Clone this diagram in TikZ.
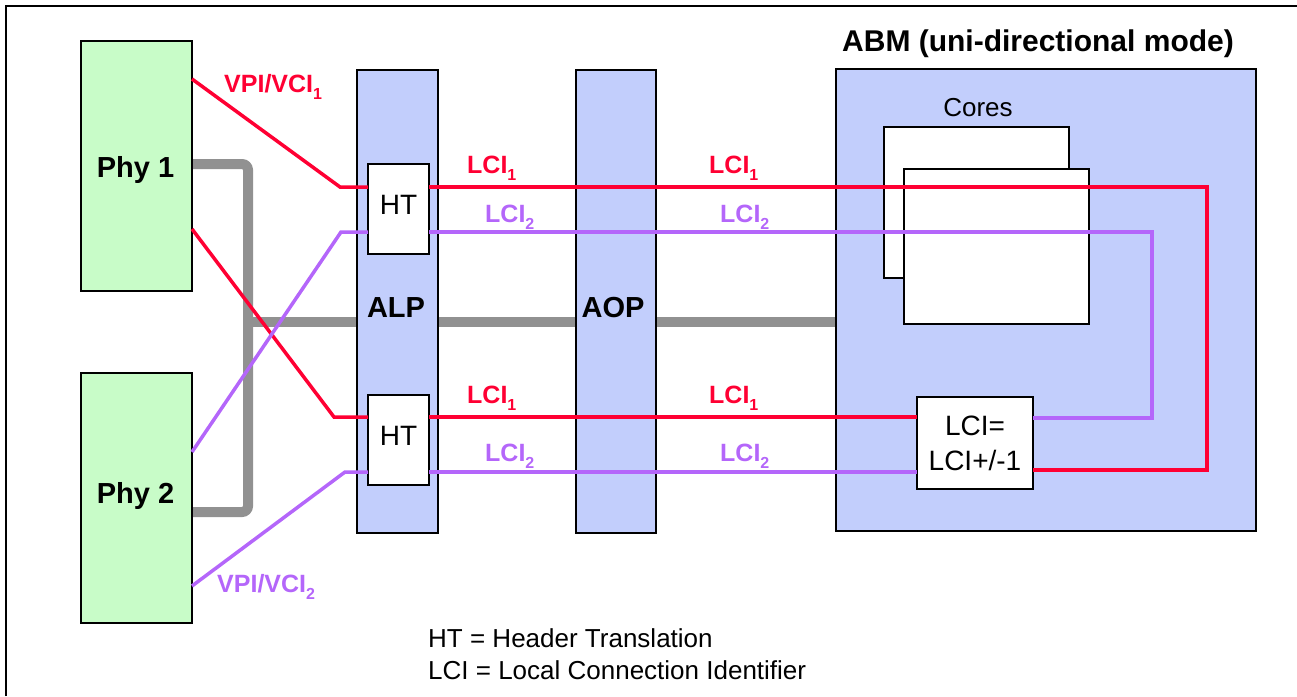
\documentclass[tikz,border=0pt]{standalone}
\usepackage{fontspec}
\setmainfont{Liberation Sans}
\usetikzlibrary{backgrounds}
\definecolor{phyfill}{RGB}{200,252,200}
\definecolor{blkfill}{RGB}{194,206,252}
\definecolor{redc}{RGB}{255,0,51}
\definecolor{purc}{RGB}{180,102,250}
\definecolor{busc}{RGB}{145,145,145}
\newcommand{\sbs}[1]{\raisebox{-0.28em}{\fontsize{16}{16}\selectfont #1}}
\tikzset{
  box/.style={draw=black, line width=2pt, inner sep=0pt, outer sep=0pt},
  phy/.style={box, fill=phyfill, minimum width=111pt, minimum height=250pt},
  blk/.style={box, fill=blkfill},
  wbox/.style={box, fill=white},
  htbox/.style={box, fill=white, minimum width=61pt, minimum height=90pt, text depth=8pt, font=\fontsize{28}{33}\selectfont},
  redl/.style={draw=redc, line width=3.5pt},
  purl/.style={draw=purc, line width=3.5pt},
  bus/.style={draw=busc, line width=10pt, rounded corners=6pt},
  bigb/.style={inner sep=0pt, anchor=base, font=\fontsize{29}{34}\selectfont\bfseries},
  lbl/.style={inner sep=0pt, anchor=base west, font=\fontsize{25}{30}\selectfont\bfseries},
  plain/.style={inner sep=0pt, font=\fontsize{26}{32}\selectfont},
}
\begin{document}
\begin{tikzpicture}[x=1pt, y=-1pt]
\useasboundingbox (0,0) rectangle (1297,696);
% outer frame
\draw[line width=2pt] (6,696) -- (6,6) -- (1297,6);

% main blocks
\node[phy] (phy1) at (136.5,166) {};
\node[phy] (phy2) at (136.5,498) {};
\node[blk, minimum width=81pt, minimum height=463pt] (alp) at (397.5,301.5) {};
\node[blk, minimum width=80pt, minimum height=463pt] (aop) at (616,301.5) {};
\node[blk, minimum width=420pt, minimum height=462pt] (abm) at (1046,300) {};

% gray bus, behind the blocks
\coordinate (g1) at (0,164);
\coordinate (g2) at (248,164);
\coordinate (g3) at (248,512);
\coordinate (gj) at (248,322);
\begin{scope}[on background layer]
\draw[bus] (phy1.east |- g1) -- (g2) -- (g3) -- (phy2.east |- g3);
\draw[bus, rounded corners=0pt] (gj) -- (abm.west |- gj);
\end{scope}

% texts of big blocks
\node[bigb] (phy1t) at (135.5,177) {Phy 1};
\node[bigb] (phy2t) at (135.5,503) {Phy 2};
\node[bigb] (alpt) at (396,317) {ALP};
\node[bigb] (aopt) at (613,317) {AOP};
\node[bigb, font=\fontsize{30}{35}\selectfont\bfseries] (abmt) at (1038,51) {ABM (uni-directional mode)};

% cores
\node[plain, anchor=base] (corest) at (978,116) {Cores};
\node[wbox, minimum width=185pt, minimum height=151pt] (core1) at (976.5,202.5) {};
\node[wbox, minimum width=185pt, minimum height=155pt] (core2) at (996.5,246.5) {};

% HT and LCI boxes
\node[htbox] (ht1) at (398.5,209) {HT};
\node[htbox] (ht2) at (398.5,440) {HT};
\node[box, fill=white, minimum width=116pt, minimum height=92pt, align=center, font=\fontsize{28}{35}\selectfont] (lci) at (975,443) {LCI=\\LCI+/-1};

% bend coordinates of connectors
\coordinate (r1s) at (192,79);
\coordinate (r1k) at (340,187);
\coordinate (r1c1) at (1207,187);
\coordinate (r1c2) at (1207,470);
\coordinate (r2s) at (192,229);
\coordinate (r2k) at (334,417);
\coordinate (p1s) at (192,452);
\coordinate (p1k) at (341,232);
\coordinate (p1c1) at (1152,232);
\coordinate (p1c2) at (1152,418);
\coordinate (p2s) at (192,586);
\coordinate (p2k) at (345,472);

% red connections
\draw[redl] (phy1.east |- r1s) -- (r1k) -- (ht1.west |- r1k);
\draw[redl] (ht1.east |- r1k) -- (r1c1) -- (r1c2) -- (lci.east |- r1c2);
\draw[redl] (phy1.east |- r2s) -- (r2k) -- (ht2.west |- r2k);
\draw[redl] (ht2.east |- r2k) -- (lci.west |- r2k);
% purple connections
\draw[purl] (phy2.east |- p1s) -- (p1k) -- (ht1.west |- p1k);
\draw[purl] (ht1.east |- p1k) -- (p1c1) -- (p1c2) -- (lci.east |- p1c2);
\draw[purl] (phy2.east |- p2s) -- (p2k) -- (ht2.west |- p2k);
\draw[purl] (ht2.east |- p2k) -- (lci.west |- p2k);

% connector labels
\node[lbl, text=redc] (vpi1) at (224,92) {VPI/VCI\sbs{1}};
\node[lbl, text=purc] (vpi2) at (217,592) {VPI/VCI\sbs{2}};
\node[lbl, text=redc] (l1a) at (467,173) {LCI\sbs{1}};
\node[lbl, text=redc] (l1b) at (709,173) {LCI\sbs{1}};
\node[lbl, text=purc] (l2a) at (485,222) {LCI\sbs{2}};
\node[lbl, text=purc] (l2b) at (720,222) {LCI\sbs{2}};
\node[lbl, text=redc] (l1c) at (467,403) {LCI\sbs{1}};
\node[lbl, text=redc] (l1d) at (709,403) {LCI\sbs{1}};
\node[lbl, text=purc] (l2c) at (485,461) {LCI\sbs{2}};
\node[lbl, text=purc] (l2d) at (720,461) {LCI\sbs{2}};

% legend
\node[plain, anchor=base west] (leg1) at (428,647) {HT = Header Translation};
\node[plain, anchor=base west] (leg2) at (428,679) {LCI = Local Connection Identifier};
\end{tikzpicture}
\end{document}
